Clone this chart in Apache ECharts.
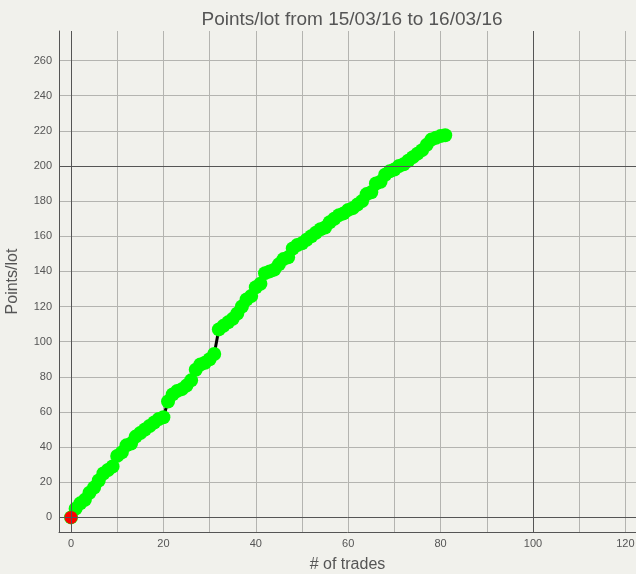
<!DOCTYPE html>
<html>
<head>
<meta charset="utf-8">
<script src="https://cdn.jsdelivr.net/npm/echarts@6/dist/echarts.min.js"></script>
<style>
html,body{margin:0;padding:0;background:#f1f1ec;}
#chart{width:636px;height:574px;}
</style>
</head>
<body>
<div id="chart"></div>
<script>
var titleText = 'Points/lot from 15/03/16 to 16/03/16';
var xName = '# of trades';
var yName = 'Points/lot';
var pointsPerLot = [0,5,8,10,14,17,21,25,27,29,35,37,41,42,46,48,50,52,54,56,57,
  66,70,72,73,75,78,84,87,88,90,93,
  107,109,111,113,116,120,124,126,131,133,
  139,140,141,144,147,148,153,155,156,158,160,162,164,165,168,170,172,173,175,176,178,180,
  184,185,190,191,195,197,198,200,201,203,205,207,209,212,215,216,217,217.5];
var xLabelValues = [0,20,40,60,80,100,120];
var xGridValues = [0,10,20,30,40,50,60,70,80,90,100,110,120];
var yLabelValues = [0,20,40,60,80,100,120,140,160,180,200,220,240,260];
var xMajor = [0,100];
var yMajor = [0,200];

var data = pointsPerLot.map(function(v,i){ return [i,v]; });
var firstPoint = [[0, pointsPerLot[0]]];

var chart = echarts.init(document.getElementById('chart'));
var textColor = '#555555';
chart.setOption({
  backgroundColor:'#f1f1ec',
  animation:false,
  title:{text:titleText,left:347,top:5,textAlign:'center',
    textStyle:{fontFamily:'Liberation Sans',fontSize:19,fontWeight:'normal',color:textColor}},
  grid:{left:59,right:0,top:31,bottom:42,containLabel:false,outerBoundsMode:'none'},
  xAxis:{type:'value',min:-2.6,max:122.3,name:xName,nameLocation:'middle',nameGap:25,
    nameTextStyle:{fontFamily:'Liberation Sans',fontSize:16,color:textColor},
    axisLine:{show:true,onZero:false,lineStyle:{color:'#555',width:1}},
    axisTick:{show:false,customValues:xGridValues},
    axisLabel:{customValues:xLabelValues,color:textColor,fontFamily:'Liberation Sans',fontSize:11,margin:6},
    splitLine:{show:true,lineStyle:{color:'#b4b4b0',width:1}}},
  yAxis:{type:'value',min:-8.3,max:276.8,name:yName,nameLocation:'middle',nameGap:38,
    nameTextStyle:{fontFamily:'Liberation Sans',fontSize:16,color:textColor},
    axisLine:{show:true,onZero:false,lineStyle:{color:'#555',width:1}},
    axisTick:{show:false,customValues:yLabelValues},
    axisLabel:{customValues:yLabelValues,color:textColor,fontFamily:'Liberation Sans',fontSize:11,margin:7},
    splitLine:{show:true,lineStyle:{color:'#b4b4b0',width:1}}},
  series:[
    {type:'line',data:[],z:1,silent:true,
      markLine:{silent:true,symbol:'none',label:{show:false},animation:false,
        lineStyle:{color:'#555',width:1,type:'solid'},
        data:xMajor.map(function(v){return {xAxis:v};}).concat(yMajor.map(function(v){return {yAxis:v};}))}},
    {type:'line',data:data,z:3,symbol:'circle',symbolSize:14,showAllSymbol:true,
      lineStyle:{color:'#000',width:3},
      itemStyle:{color:'#00ff00'}},
    {type:'scatter',data:firstPoint,z:4,symbol:'circle',symbolSize:13,
      itemStyle:{color:'#ff0000',opacity:1}}
  ]
});
</script>
</body>
</html>
